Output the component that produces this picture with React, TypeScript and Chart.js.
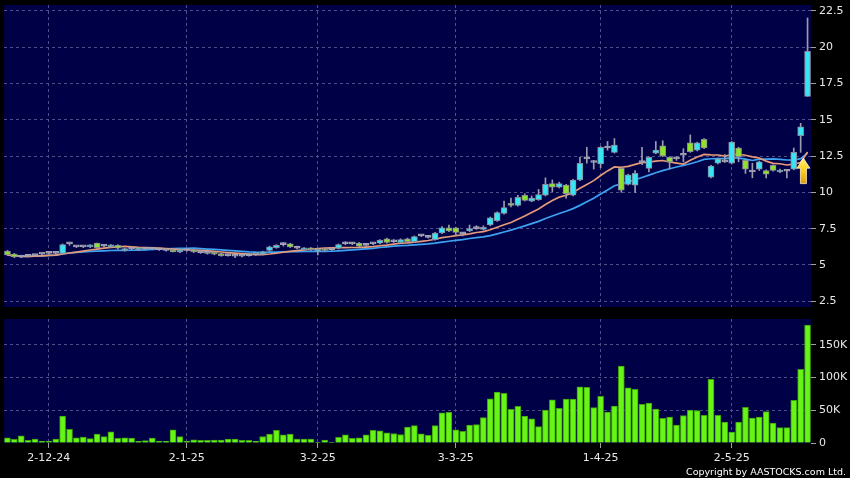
import React, { useEffect, useRef } from 'react';
import { Chart, registerables } from 'chart.js';

Chart.register(...registerables);

// ---------- data ----------
const startDate = '2024-11-22';
const holidays = [
  '2024-12-25', '2024-12-26', '2025-01-01', '2025-01-29', '2025-01-30', '2025-01-31',
  '2025-04-04', '2025-04-18', '2025-04-21', '2025-05-01', '2025-05-05',
];
const tickDates = ['2-12-24', '2-1-25', '3-2-25', '3-3-25', '1-4-25', '2-5-25'];

const opens = [
  5.95, 5.75, 5.55, 5.6, 5.65, 5.75, 5.8, 5.8, 5.8, 6.45,
  6.25, 6.25, 6.25, 6.5, 6.3, 6.25, 6.35, 6.0, 6.1, 6.05,
  6.1, 6.1, 6.05, 6.0, 6.05, 5.9, 6.0, 6.0, 5.85, 5.8,
  5.85, 5.75, 5.65, 5.6, 5.6, 5.65, 5.7, 5.75, 6.0, 6.2,
  6.4, 6.45, 6.15, 6.05, 6.15, 5.95, 6.1, 6.05, 6.15, 6.45,
  6.45, 6.5, 6.35, 6.45, 6.5, 6.8, 6.6, 6.55, 6.8, 6.6,
  7.0, 6.9, 6.75, 7.2, 7.55, 7.55, 7.15, 7.35, 7.5, 7.45,
  7.75, 8.05, 8.55, 9.2, 9.1, 9.8, 9.4, 9.5, 9.8, 10.6,
  10.35, 10.5, 9.8, 10.85, 12.3, 12.05, 11.95, 13.05, 12.75, 11.65,
  10.55, 10.5, 12.05, 11.65, 12.7, 13.2, 12.4, 12.3, 12.55, 13.4,
  12.9, 13.65, 11.05, 12.0, 12.1, 12.0, 13.05, 12.2, 11.4, 11.6,
  11.5, 11.85, 11.4, 11.45, 11.6, 13.9, 16.6,
];
const highs = [
  6.0, 5.8, 5.6, 5.65, 5.7, 5.8, 5.85, 5.85, 6.45, 6.55,
  6.3, 6.3, 6.4, 6.5, 6.4, 6.4, 6.4, 6.15, 6.15, 6.15,
  6.15, 6.15, 6.1, 6.05, 6.1, 6.1, 6.05, 6.05, 5.9, 5.85,
  5.9, 5.8, 5.7, 5.65, 5.65, 5.7, 5.75, 5.95, 6.3, 6.4,
  6.55, 6.5, 6.3, 6.2, 6.2, 6.15, 6.15, 6.1, 6.45, 6.6,
  6.55, 6.55, 6.45, 6.55, 6.75, 6.85, 6.75, 6.8, 6.85, 7.0,
  7.1, 7.0, 7.25, 7.65, 7.75, 7.6, 7.25, 7.75, 7.7, 7.7,
  8.3, 8.65, 9.4, 9.6, 9.8, 9.9, 9.75, 10.2, 11.0, 10.85,
  10.7, 10.55, 10.9, 12.4, 13.1, 12.2, 13.15, 13.5, 13.7, 11.7,
  11.25, 11.5, 13.1, 12.45, 13.5, 13.55, 12.45, 12.45, 13.0, 13.95,
  13.45, 13.7, 11.85, 12.35, 12.6, 13.5, 13.1, 12.25, 12.0, 12.15,
  11.55, 11.9, 11.6, 11.55, 13.05, 14.75, 22.0,
];
const lows = [
  5.65, 5.5, 5.5, 5.55, 5.6, 5.7, 5.75, 5.75, 5.8, 6.35,
  6.2, 6.2, 6.2, 6.15, 6.25, 6.2, 6.1, 5.95, 6.05, 6.0,
  6.05, 6.05, 6.0, 5.95, 5.9, 5.85, 5.95, 5.85, 5.8, 5.75,
  5.7, 5.6, 5.6, 5.5, 5.55, 5.6, 5.65, 5.7, 5.95, 6.15,
  6.3, 6.2, 6.1, 6.0, 6.0, 5.7, 5.95, 6.0, 6.1, 6.4,
  6.4, 6.25, 6.3, 6.4, 6.45, 6.5, 6.55, 6.5, 6.55, 6.55,
  6.95, 6.85, 6.7, 7.15, 7.3, 7.0, 7.0, 7.3, 7.45, 7.4,
  7.7, 8.0, 8.5, 9.0, 9.05, 9.4, 9.35, 9.45, 9.75, 10.05,
  10.3, 9.6, 9.75, 10.8, 12.0, 11.6, 11.7, 12.9, 12.7, 10.0,
  10.5, 10.0, 11.9, 11.4, 12.65, 12.45, 11.6, 12.2, 12.1, 12.75,
  12.85, 13.0, 11.0, 11.95, 12.05, 11.95, 12.1, 11.3, 11.0, 11.5,
  11.0, 11.45, 11.35, 11.0, 11.55, 12.75, 16.6,
];
const closes = [
  5.7, 5.55, 5.55, 5.6, 5.65, 5.75, 5.8, 5.8, 6.4, 6.45,
  6.25, 6.25, 6.35, 6.2, 6.3, 6.35, 6.15, 6.1, 6.1, 6.1,
  6.1, 6.1, 6.05, 6.0, 5.9, 6.05, 6.0, 5.9, 5.85, 5.8,
  5.75, 5.65, 5.65, 5.6, 5.6, 5.65, 5.7, 5.9, 6.25, 6.35,
  6.4, 6.25, 6.15, 6.15, 6.05, 6.1, 6.0, 6.05, 6.4, 6.45,
  6.45, 6.3, 6.35, 6.45, 6.7, 6.55, 6.6, 6.75, 6.6, 6.95,
  7.0, 6.9, 7.2, 7.55, 7.35, 7.25, 7.15, 7.5, 7.5, 7.6,
  8.25, 8.6, 8.95, 9.1, 9.65, 9.45, 9.6, 9.85, 10.55, 10.35,
  10.6, 9.9, 10.85, 12.0, 12.3, 12.05, 13.1, 13.05, 13.25, 10.15,
  11.2, 11.3, 12.05, 12.4, 12.9, 12.5, 12.1, 12.3, 12.55, 12.8,
  13.4, 13.05, 11.8, 12.3, 12.1, 13.45, 12.45, 11.6, 11.4, 12.1,
  11.25, 11.5, 11.5, 11.45, 12.75, 14.5, 19.7,
];
// volume in thousands of shares
const volumes = [
  8, 5.6, 11, 4, 6, 2.5, 3, 6, 41, 21,
  8, 9, 6.6, 13.8, 9.7, 17, 7, 8, 7.6, 2.5,
  3.6, 7.6, 3, 2.5, 20, 10, 3, 5, 4, 4,
  4.5, 4.5, 6, 6, 4, 4, 2.5, 10, 13.5, 19.5,
  12.5, 13.5, 6, 6, 6, 0.3, 4.5, 1.5, 8.6, 12.5,
  7, 8, 12.5, 19.5, 18.5, 15.5, 14.5, 13, 24.5, 26.5,
  14, 11.7, 26.5, 46, 47, 20, 18, 27.5, 28, 38.7,
  67.7, 78, 76, 51.5, 56, 41, 37, 25, 50.5, 66,
  53, 67, 67, 86, 85, 54, 71.4, 47.4, 56.6, 117.7,
  84.5, 82, 59, 61, 52, 37.8, 39.8, 27.5, 41.8, 50.5,
  49.4, 42.3, 97.4, 42.3, 32, 16.8, 32, 54.6, 38.2, 39.8,
  47.9, 30.6, 23.4, 23.4, 65.3, 112.7, 180.4,
];
const priceTicks = [2.5, 5, 7.5, 10, 12.5, 15, 17.5, 20, 22.5];
const volumeTicks = [0, 50, 100, 150];
const maShort = 10;
const maLong = 20;

// ---------- styles ----------
const NAVY = '#000046';
const GRID = '#4e4e88';
const TICK = '#a0a0a0';
const TEXT = '#e8e8e8';
const UP = '#36e4f4';
const DOWN = '#8fe22c';
const DOJI = '#a4a4b4';
const BODY_BORDER = '#8a8a9c';
const WICK = '#9c9cac';
const VOL_FILL = '#66f514';
const VOL_BORDER = '#3f9e0c';
const ARROW_INDEX = 115.4;
const ARROW_TOP = 12.35;
const ARROW_BOTTOM = 10.6;

function buildDates(n: number): string[] {
  const out: string[] = [];
  const hol = new Set(holidays);
  const d = new Date(startDate + 'T00:00:00Z');
  while (out.length < n) {
    const iso = d.toISOString().slice(0, 10);
    const wd = d.getUTCDay();
    if (wd !== 0 && wd !== 6 && !hol.has(iso)) {
      out.push(`${d.getUTCDate()}-${d.getUTCMonth() + 1}-${String(d.getUTCFullYear()).slice(2)}`);
    }
    d.setUTCDate(d.getUTCDate() + 1);
  }
  return out;
}

function sma(values: number[], n: number): number[] {
  return values.map((_, i) => {
    const s = Math.max(0, i - n + 1);
    const win = values.slice(s, i + 1);
    return win.reduce((a, b) => a + b, 0) / win.length;
  });
}

const panelBg = {
  id: 'panelBg',
  beforeDraw(chart: any) {
    const { ctx, chartArea } = chart;
    ctx.save();
    ctx.fillStyle = NAVY;
    ctx.fillRect(chartArea.left, chartArea.top, chartArea.right - chartArea.left, chartArea.bottom - chartArea.top);
    ctx.restore();
  },
};

const arrowPlugin = {
  id: 'arrowMark',
  afterDatasetsDraw(chart: any) {
    const { ctx, scales } = chart;
    const cx = scales.x.getPixelForValue(ARROW_INDEX);
    const tip = scales.y.getPixelForValue(ARROW_TOP);
    const base = scales.y.getPixelForValue(ARROW_BOTTOM);
    const headH = 10;
    const headW = 6.5;
    const shaftW = 3;
    ctx.save();
    const g = ctx.createLinearGradient(0, tip, 0, base);
    g.addColorStop(0, '#fff07a');
    g.addColorStop(0.5, '#ffcc1a');
    g.addColorStop(1, '#e39a00');
    ctx.beginPath();
    ctx.moveTo(cx, tip);
    ctx.lineTo(cx + headW, tip + headH);
    ctx.lineTo(cx + shaftW, tip + headH);
    ctx.lineTo(cx + shaftW, base);
    ctx.lineTo(cx - shaftW, base);
    ctx.lineTo(cx - shaftW, tip + headH);
    ctx.lineTo(cx - headW, tip + headH);
    ctx.closePath();
    ctx.fillStyle = g;
    ctx.fill();
    ctx.strokeStyle = '#fff8c8';
    ctx.lineWidth = 0.8;
    ctx.stroke();
    ctx.restore();
  },
};

export default function App() {
  const priceRef = useRef<HTMLCanvasElement>(null);
  const volRef = useRef<HTMLCanvasElement>(null);

  useEffect(() => {
    Chart.defaults.font.family = 'DejaVu Sans';
    Chart.defaults.font.size = 11;
    const labels = buildDates(closes.length);
    const tickSet = new Set(tickDates);
    const dateTicks = (scale: any) => {
      scale.ticks = scale.ticks.filter((t: any) => tickSet.has(labels[t.value]));
    };
    const bodyColors = opens.map((o, i) => (closes[i] > o ? UP : closes[i] < o ? DOWN : DOJI));
    const bodyBorders = opens.map((o, i) => (closes[i] === o ? DOJI : BODY_BORDER));
    const ma10 = sma(closes, maShort);
    const ma20 = sma(closes, maLong);

    const price = new Chart(priceRef.current!, {
      type: 'bar',
      data: {
        labels,
        datasets: [
          { type: 'line', data: ma20, borderColor: '#3da2f2', borderWidth: 1.7, pointRadius: 0, order: 4 } as any,
          { type: 'line', data: ma10, borderColor: '#e59a78', borderWidth: 1.7, pointRadius: 0, order: 3 } as any,
          {
            type: 'bar',
            data: lows.map((l, i) => [l, highs[i]]),
            backgroundColor: WICK,
            barThickness: 1,
            grouped: false,
            order: 2,
          } as any,
          {
            type: 'bar',
            data: opens.map((o, i) => [o, closes[i]]),
            backgroundColor: bodyColors,
            borderColor: bodyBorders,
            borderWidth: 1,
            borderSkipped: false,
            barThickness: 6,
            minBarLength: 2,
            grouped: false,
            order: 1,
          } as any,
        ],
      },
      options: {
        responsive: false,
        animation: false,
        events: [],
        layout: { padding: { left: 4, top: 5, right: 0, bottom: 6 } },
        plugins: { legend: { display: false }, tooltip: { enabled: false } },
        scales: {
          x: {
            type: 'category',
            offset: true,
            afterBuildTicks: dateTicks,
            afterFit: (s: any) => { s.height = 0; s.paddingLeft = 0; s.paddingRight = 0; },
            ticks: { display: false, autoSkip: false },
            grid: { color: GRID, offset: false, drawTicks: false },
            border: { display: false, dash: [3, 3] },
          },
          y: {
            position: 'right',
            min: 2.11,
            max: 22.89,
            afterBuildTicks: (s: any) => { s.ticks = priceTicks.map((v) => ({ value: v })); },
            afterFit: (s: any) => { s.width = 39; s.paddingTop = 0; s.paddingBottom = 0; },
            ticks: { color: TEXT, padding: 3, font: { size: 11 } },
            grid: { color: GRID, tickColor: TICK, tickLength: 5 },
            border: { display: false, dash: [3, 3] },
          },
        },
      } as any,
      plugins: [panelBg, arrowPlugin],
    });

    const vol = new Chart(volRef.current!, {
      type: 'bar',
      data: {
        labels,
        datasets: [
          {
            data: volumes,
            backgroundColor: VOL_FILL,
            borderColor: VOL_BORDER,
            borderWidth: 1,
            borderSkipped: 'bottom',
            barThickness: 6,
          },
        ],
      },
      options: {
        responsive: false,
        animation: false,
        events: [],
        layout: { padding: { left: 4, top: 6, right: 0, bottom: 0 } },
        plugins: { legend: { display: false }, tooltip: { enabled: false } },
        scales: {
          x: {
            type: 'category',
            offset: true,
            afterBuildTicks: dateTicks,
            afterFit: (s: any) => { s.height = 35; s.paddingLeft = 0; s.paddingRight = 0; },
            ticks: { color: TEXT, padding: 4, autoSkip: false, maxRotation: 0, font: { size: 11 } },
            grid: { color: GRID, offset: false, tickColor: TICK, tickLength: 5 },
            border: { display: false, dash: [3, 3] },
          },
          y: {
            position: 'right',
            min: 0,
            max: 189.6,
            afterBuildTicks: (s: any) => { s.ticks = volumeTicks.map((v) => ({ value: v })); },
            afterFit: (s: any) => { s.width = 39; s.paddingTop = 0; s.paddingBottom = 0; },
            ticks: {
              color: TEXT,
              padding: 3,
              font: { size: 11 },
              callback: (v: any) => (v === 0 ? '0' : `${v}K`),
            },
            grid: {
              color: (c: any) => (c.tick && c.tick.value === 0 ? 'rgba(0,0,0,0)' : GRID),
              tickColor: TICK,
              tickLength: 5,
            },
            border: { display: false, dash: [3, 3] },
          },
        },
      } as any,
      plugins: [panelBg],
    });

    return () => {
      price.destroy();
      vol.destroy();
    };
  }, []);

  return (
    <div style={{ position: 'fixed', left: 0, top: 0, width: 850, height: 478, background: '#000', overflow: 'hidden' }}>
      <canvas ref={priceRef} width={850} height={313} style={{ position: 'absolute', left: 0, top: 0 }} />
      <canvas ref={volRef} width={850} height={165} style={{ position: 'absolute', left: 0, top: 313 }} />
      <div
        style={{
          position: 'absolute',
          right: 4,
          top: 466,
          color: '#fff',
          fontFamily: 'DejaVu Sans',
          fontSize: 9.5,
          lineHeight: '11px',
          whiteSpace: 'nowrap',
        }}
      >
        Copyright by AASTOCKS.com Ltd.
      </div>
    </div>
  );
}
